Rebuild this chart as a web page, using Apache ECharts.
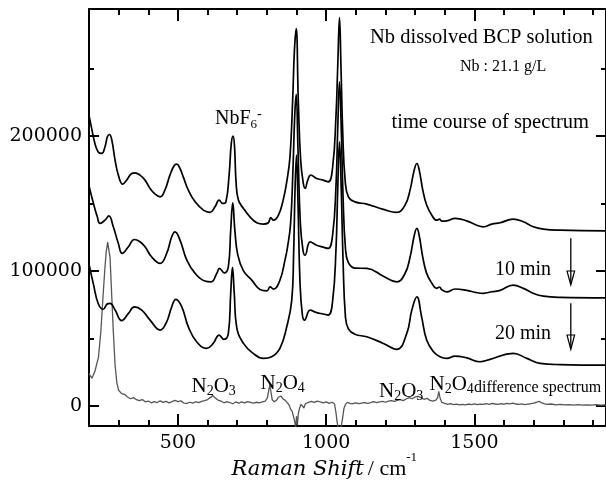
<!DOCTYPE html>
<html><head><meta charset="utf-8">
<script src="https://cdn.jsdelivr.net/npm/echarts@6/dist/echarts.min.js"></script>
<style>html,body{margin:0;padding:0;background:#fff}#c{width:606px;height:486px}</style>
</head><body><div id="c"></div>
<script>
// ---------- data ----------
const shift0min = [201,209,220,231,243,254,262,269,277,288,299,314,327,344,355,372,389,406,423,440,456,473,487,496,507,518,535,558,586,608,625,639,651,662,673,680,686,691,696,704,721,743,766,788,805,813,822,839,855,867,878,887,893,899,906,914,923,929,938,948,968,990,1007,1022,1033,1039,1045,1050,1056,1064,1075,1097,1137,1193,1238,1266,1283,1297,1306,1314,1326,1339,1356,1373,1382,1390,1407,1435,1474,1508,1530,1559,1587,1631,1665,1699,1733,1789,1944];
const intensity0min = [214000,205500,194400,188100,187000,191900,199300,201000,196800,182000,170900,164200,167200,172100,172600,170900,167200,161000,156800,154800,159800,170900,177800,179000,175800,169600,159800,151100,145000,143300,147400,152400,149900,151100,172100,194400,199800,191900,165900,152400,146200,140000,135600,134600,135600,139500,137500,141300,152400,165900,184400,226400,263500,279500,226400,182000,164700,161000,167200,170900,168400,167200,165900,177000,214000,251100,287700,251100,201800,167200,154800,151100,149400,145500,143300,148700,159800,174600,179500,174600,159800,148700,141300,137500,138300,136800,137000,138800,137000,133800,132600,134600,135600,138300,136300,132600,130900,130100,129600];

const shift10min = [201,215,228,237,254,267,282,299,312,333,353,372,389,411,440,462,479,490,507,530,558,591,612,631,640,656,670,678,685,692,702,721,749,777,800,811,822,844,861,870,880,888,894,899,905,913,922,929,946,968,990,1007,1022,1033,1039,1045,1051,1057,1065,1075,1097,1137,1193,1238,1266,1283,1297,1306,1314,1326,1339,1356,1373,1382,1390,1407,1435,1474,1508,1530,1559,1587,1631,1665,1699,1733,1789,1944];
const intensity10min = [162200,149900,140000,135100,137500,140700,132600,120300,112900,117800,123200,121500,117800,110400,105500,112900,125200,128900,122700,107900,98100,92400,91800,98100,101800,98500,103000,130100,150400,130100,111600,100000,93100,86200,85200,88100,86400,93000,107900,118000,135000,175000,215000,230700,190000,135000,115000,111600,121500,119000,117500,116600,127000,162000,205000,240000,205000,155000,117000,106000,102000,101800,96000,91800,98000,110000,126000,131400,126000,110000,98100,91000,87000,88000,86000,84400,86500,85500,83800,83300,84500,85500,89400,87000,83300,81200,80300,80000];

const shift20min = [201,215,231,248,262,271,288,310,333,353,378,406,440,462,479,493,513,535,563,597,619,639,655,670,678,684,690,698,721,754,788,816,844,867,884,890,895,900,905,912,920,927,946,968,990,1007,1022,1033,1039,1045,1051,1057,1065,1075,1097,1137,1193,1238,1272,1289,1306,1322,1339,1362,1384,1407,1435,1474,1519,1553,1631,1677,1722,1789,1944];
const intensity20min = [104000,90000,75800,71500,75500,75800,70900,63100,68400,73300,70900,63500,56100,62200,73300,78800,73300,58500,47400,42500,46200,52400,49200,53600,83300,102500,83300,58500,46200,38800,35100,36300,42500,58500,78300,110000,160000,185700,150000,90000,67000,63500,70900,69000,68000,67200,78000,115000,160000,195500,160000,108000,66000,57000,53000,51100,46200,41800,53600,70900,80700,65900,48700,40000,36300,35100,36800,35500,32600,34400,38800,35100,31400,30500,30100];

const shiftDiff = [200,205,210,215,220,225,232,240,247,253,258,263,267,271,276,282,288,294,300,310,320,330,340,350,360,370,380,390,400,410,420,430,440,450,460,470,480,490,500,510,520,530,540,550,560,570,580,590,600,610,618,625,635,645,655,665,675,685,695,705,715,725,735,745,755,765,775,785,795,802,806,810,814,818,825,832,840,848,855,862,870,875,880,885,890,894,897,900,903,906,910,915,920,925,930,940,950,960,970,980,990,1000,1010,1020,1028,1033,1037,1040,1045,1050,1055,1060,1065,1072,1080,1090,1100,1110,1120,1130,1140,1150,1160,1170,1180,1190,1200,1210,1220,1230,1240,1250,1260,1270,1280,1290,1300,1310,1320,1330,1340,1350,1360,1370,1376,1380,1384,1390,1400,1410,1420,1430,1440,1450,1460,1470,1480,1490,1500,1510,1520,1530,1540,1550,1560,1570,1580,1590,1600,1610,1620,1630,1640,1650,1660,1670,1680,1690,1700,1710,1718,1725,1735,1745,1760,1775,1790,1805,1820,1835,1850,1865,1880,1895,1910,1925,1944];
const intensityDiff = [24000,22000,20500,23000,25500,30000,36000,55000,80000,100000,114000,121000,120000,110000,85000,55000,30000,17000,11500,9000,8500,6500,5200,6000,4500,3800,4600,2900,3500,2200,3000,2400,3600,2500,3200,2100,3000,4000,3100,3600,2000,1800,2600,1900,3000,2300,3300,3800,4600,6200,7500,6000,4200,3500,2200,3100,2400,1500,2800,2000,2900,2200,3000,2500,2000,2600,2200,2900,3500,6000,11000,15500,10000,4500,3000,4000,6500,7200,5000,4000,2000,500,-2500,-4000,-8000,-12000,-16000,-8000,-14000,-6000,-2000,1000,0,-1500,1500,2500,3300,2500,3500,2800,2200,2900,1800,2600,1500,-5000,-12000,-16000,-17000,-16000,-10000,-2000,1000,2500,1800,1500,2200,1500,2000,2400,1800,2300,3000,2400,2900,3300,2600,3400,3800,3200,4000,4500,3800,5000,6000,5200,6500,7000,6000,4800,5500,4000,3500,4200,6000,10500,6000,2500,1800,1000,1500,800,1200,600,1100,700,1300,900,1400,800,1200,1000,1500,1100,1700,1300,1000,1500,1200,1800,1400,1900,1300,1000,1400,900,1200,1500,2000,2600,3200,2400,1600,1000,1300,700,1000,600,900,500,800,400,700,500,800,400,600];

const xMajorTicks = [500, 1000, 1500];
const xMinorTicks = [300,400,600,700,800,900,1100,1200,1300,1400,1600,1700,1800,1900];
const yMajorTicks = [0, 100000, 200000];
const yMinorTicks = [50000, 150000, 250000];

// ---------- chart ----------
const X_MIN = 200, X_MAX = 1944, Y_MIN = -15000, Y_MAX = 294000;
const pairs = (xs, ys) => xs.map((x, i) => [x, ys[i]]);
const chart = echarts.init(document.getElementById('c'), null, {renderer: 'canvas'});

const tickFont = 'DejaVu Serif';
const plainNum = v => String(Math.round(v));
function xAx(pos, ticks, len, showLine, showLabel) {
  return {
    type: 'value', min: X_MIN, max: X_MAX, position: pos,
    axisLine: {show: showLine, onZero: false, lineStyle: {color: '#000', width: 2}},
    axisTick: {show: true, inside: true, length: len, customValues: ticks, lineStyle: {color: '#000', width: 2}},
    axisLabel: showLabel ? {show: true, customValues: ticks, formatter: plainNum, margin: 8, color: '#000', fontFamily: tickFont, fontSize: 19} : {show: false},
    splitLine: {show: false}, minorTick: {show: false}
  };
}
function yAx(pos, ticks, len, showLine, showLabel) {
  return {
    type: 'value', min: Y_MIN, max: Y_MAX, position: pos,
    axisLine: {show: showLine, onZero: false, lineStyle: {color: '#000', width: 2}},
    axisTick: {show: true, inside: true, length: len, customValues: ticks, lineStyle: {color: '#000', width: 2}},
    axisLabel: showLabel ? {show: true, customValues: ticks, formatter: plainNum, margin: 7, color: '#000', fontFamily: tickFont, fontSize: 19} : {show: false},
    splitLine: {show: false}, minorTick: {show: false}
  };
}

const LIB = 'Liberation Serif';
const K_LIB = 0.3375, K_DV = 0.346;
function rt(x, baseline, text, rich, lh, fs, k, extra) {
  return Object.assign({
    type: 'text', x: x, y: baseline - lh / 2 - k * fs, z: 100,
    style: {text: text, rich: rich, fill: '#000', align: 'left', verticalAlign: 'top', textAlign: 'left', textVerticalAlign: 'top'}
  }, extra || {});
}
function plain(x, baseline, text, fs, color, family) {
  return rt(x, baseline, '{m|' + text + '}', {m: {fontFamily: family || LIB, fontSize: fs, lineHeight: fs + 4, color: color || '#000', verticalAlign: 'middle'}}, fs + 4, fs, K_LIB);
}
function chem(x, baseline, main, sub, main2, sub2, fs) {
  const rich = {
    m: {fontFamily: LIB, fontSize: fs, lineHeight: 24, color: '#000', verticalAlign: 'middle'},
    s: {fontFamily: LIB, fontSize: 14, lineHeight: 12, color: '#000', verticalAlign: 'bottom'}
  };
  return rt(x, baseline, '{m|' + main + '}{s|' + sub + '}{m|' + main2 + '}{s|' + sub2 + '}', rich, 24, fs, K_LIB);
}
function arrow(x, y0, yBase, yTip) {
  return {
    type: 'group', z: 100, children: [
      {type: 'line', shape: {x1: x, y1: y0, x2: x, y2: yTip - 1}, style: {stroke: '#000', lineWidth: 1.3}},
      {type: 'polygon', shape: {points: [[x - 3.8, yBase], [x + 3.8, yBase], [x, yTip]]}, style: {fill: 'none', stroke: '#000', lineWidth: 1.2}}
    ]
  };
}

const graphics = [
  plain(370, 44.3, 'Nb dissolved BCP solution', 20.5),
  plain(460, 72.3, 'Nb : 21.1 g/L', 16),
  plain(391.5, 130, 'time course of spectrum', 20.5),
  rt(215, 125.7, '{m|NbF}{s|6}{p|-}', {
    m: {fontFamily: LIB, fontSize: 20, lineHeight: 24, color: '#000', verticalAlign: 'middle'},
    s: {fontFamily: LIB, fontSize: 13, lineHeight: 13, color: '#000', verticalAlign: 'bottom'},
    p: {fontFamily: LIB, fontSize: 14, lineHeight: 18, color: '#000', verticalAlign: 'top'}
  }, 24, 20, K_LIB),
  plain(495, 276, '10 min', 20),
  plain(495, 340, '20 min', 20),
  chem(191.5, 393.3, 'N', '2', 'O', '3', 21),
  chem(260.5, 390.7, 'N', '2', 'O', '4', 21),
  chem(379, 398.3, 'N', '2', 'O', '3', 21),
  chem(429.5, 391.7, 'N', '2', 'O', '4', 21),
  plain(474, 392.7, 'difference spectrum', 16, '#7a7a7a'),
  rt(231.5, 476.7, '{i|Raman Shift}{r|/ cm}{p|-1}', {
    i: {fontFamily: 'DejaVu Serif', fontStyle: 'italic', fontSize: 21, lineHeight: 36, color: '#000', verticalAlign: 'middle', padding: [0, 4, 0, 0]},
    r: {fontFamily: LIB, fontSize: 22, lineHeight: 36, color: '#000', verticalAlign: 'middle'},
    p: {fontFamily: LIB, fontSize: 13, lineHeight: 4, color: '#000', verticalAlign: 'top'}
  }, 36, 21, K_DV),
  arrow(570.8, 238.3, 271, 285),
  arrow(570.8, 303.3, 335, 349.3)
];

function lineSeries(name, xs, ys, color, width, smooth) {
  return {
    name: name, type: 'line', xAxisIndex: 0, yAxisIndex: 0, data: pairs(xs, ys),
    showSymbol: false, symbol: 'none', smooth: smooth, clip: true,
    lineStyle: {color: color, width: width, join: 'round'}, itemStyle: {color: color}, emphasis: {disabled: true}
  };
}

chart.setOption({
  animation: false,
  backgroundColor: '#fff',
  grid: {left: 89, right: 0, top: 9, bottom: 60, containLabel: false, outerBoundsMode: 'none'},
  xAxis: [
    xAx('bottom', xMajorTicks, 12, true, true),
    xAx('bottom', xMinorTicks, 6, false, false),
    xAx('top', xMajorTicks, 12, true, false),
    xAx('top', xMinorTicks, 6, false, false)
  ],
  yAxis: [
    yAx('left', yMajorTicks, 10, true, true),
    yAx('left', yMinorTicks, 5, false, false),
    yAx('right', yMajorTicks, 10, true, false),
    yAx('right', yMinorTicks, 5, false, false)
  ],
  series: [
    lineSeries('difference spectrum', shiftDiff, intensityDiff, '#555', 1.3, false),
    lineSeries('0 min', shift0min, intensity0min, '#000', 1.7, 0.45),
    lineSeries('10 min', shift10min, intensity10min, '#000', 1.7, 0.45),
    lineSeries('20 min', shift20min, intensity20min, '#000', 1.7, 0.45)
  ],
  graphic: {elements: graphics}
});
</script>
</body></html>
